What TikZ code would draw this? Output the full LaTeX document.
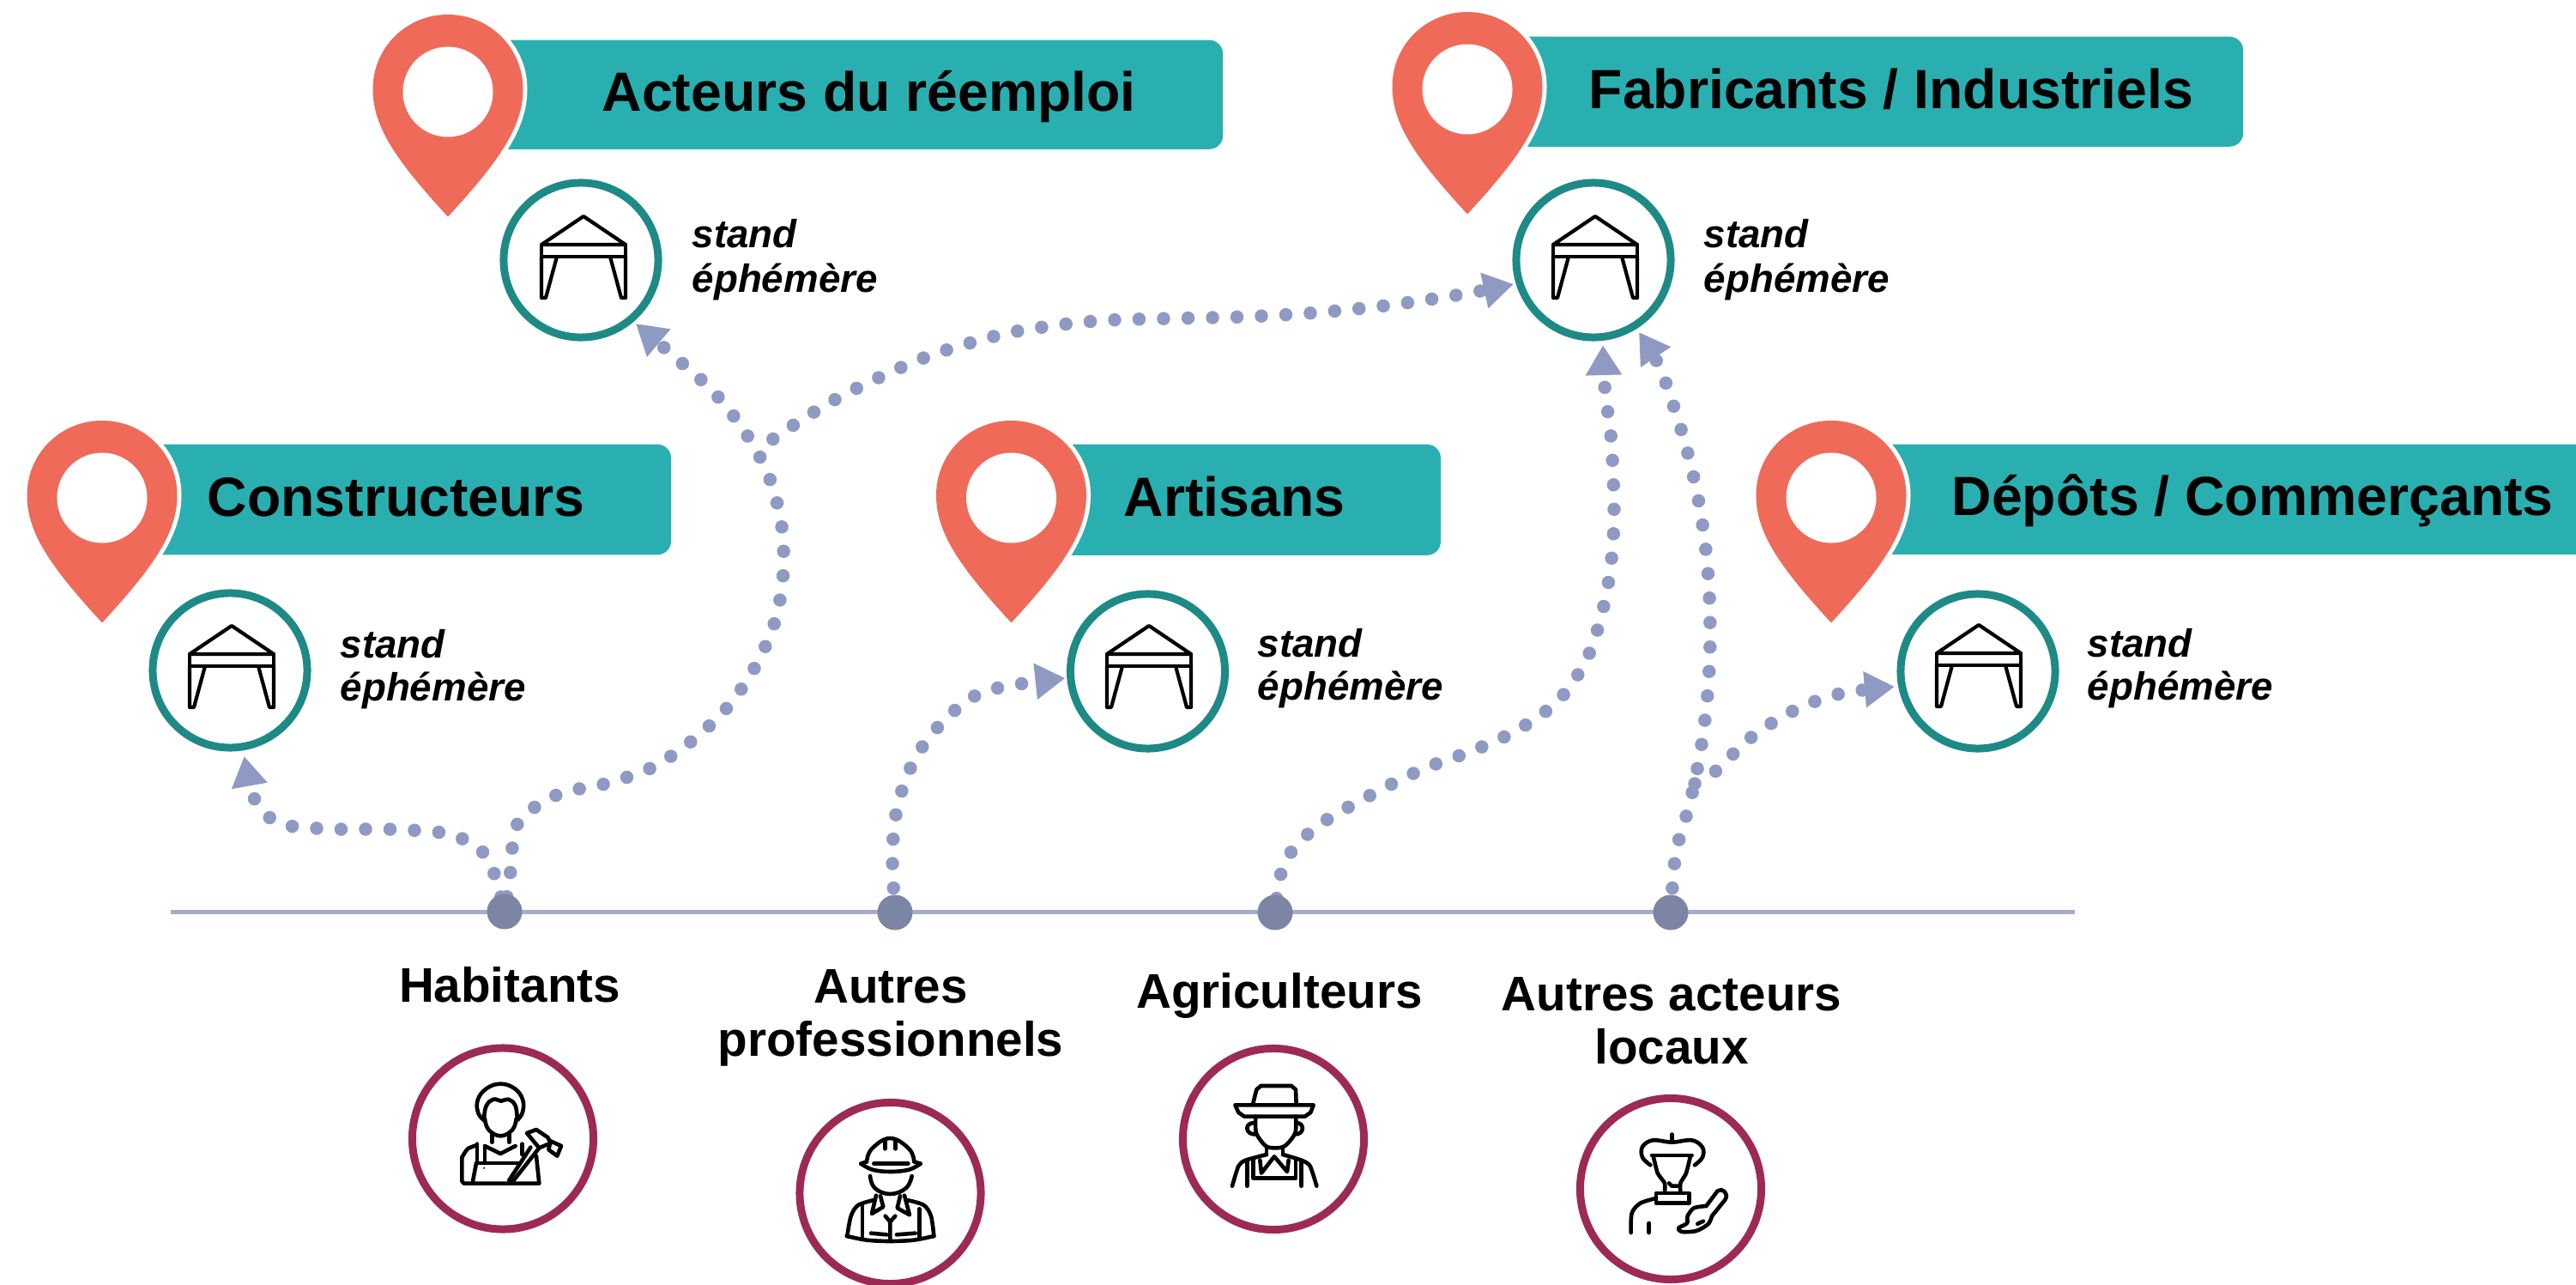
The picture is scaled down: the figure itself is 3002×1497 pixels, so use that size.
\documentclass[tikz,border=0pt]{standalone}
\usepackage{fontspec}
\setmainfont{Liberation Sans}
\usetikzlibrary{arrows.meta}
\definecolor{tealband}{HTML}{2AAFB0}
\definecolor{tealring}{HTML}{1E8A86}
\definecolor{coralpin}{HTML}{EF6A58}
\definecolor{maroonring}{HTML}{9C2A55}
\definecolor{linkdot}{HTML}{8F9AC4}
\definecolor{axisline}{HTML}{A6ACC6}
\definecolor{axisdot}{HTML}{7C85A3}
\tikzset{
  banner/.style={fill=tealband,rounded corners=.16cm,anchor=north west,inner sep=0pt},
  bannertext/.style={font=\fontsize{18.3pt}{20pt}\selectfont\bfseries,anchor=base west,inner sep=0pt,text=black},
  standring/.style={circle,draw=tealring,line width=.09cm,minimum size=1.8cm,inner sep=0pt,fill=white},
  personring/.style={circle,draw=maroonring,line width=.09cm,minimum size=2.11cm,inner sep=0pt,fill=white},
  standtext/.style={font=\fontsize{13pt}{14.2pt}\selectfont\bfseries\itshape,align=left,anchor=north west,inner sep=0pt},
  persontext/.style={font=\fontsize{16.1pt}{17.6pt}\selectfont\bfseries,align=center,inner sep=0pt},
  axisdotnode/.style={circle,fill=axisdot,minimum size=.41cm,inner sep=0pt},
  link/.style={draw=linkdot,line width=.155cm,line cap=round,dash pattern=on 0pt off .285cm,
    -{Triangle[length=.35cm,width=.40cm,fill=linkdot]}},
  iconline/.style={draw=black,line width=.046cm,line cap=round,line join=round},
  tentline/.style={draw=black,line width=.042cm,line join=round,line cap=round},
}
\newcommand{\pinshape}{(0,233) .. controls (-58,170) and (-86.5,130) .. (-86.5,86) .. controls (-86.5,38) and (-48,0) .. (0,0) .. controls (48,0) and (86.5,38) .. (86.5,86) .. controls (86.5,130) and (58,170) .. (0,233) -- cycle}
\newcommand{\pinmark}[2]{%
  \begin{scope}[shift={(#1,#2)}]
    \path[fill=white,draw=white,line width=.12cm] \pinshape;
    \path[fill=coralpin,draw=coralpin,line width=.02cm,line join=round] \pinshape;
    \fill[white] (0,89) circle [radius=.525cm];
  \end{scope}}
\newcommand{\tentmark}[2]{%
  \begin{scope}[shift={(#1,#2)},tentline]
    \draw (-49,33) -- (0,0) -- (49,33) -- cycle;
    \draw (-49,33) rectangle (49,47);
    \draw (-49,47) -- (-49,95) -- (-44,95) -- (-31,47);
    \draw (49,47) -- (49,95) -- (44,95) -- (31,47);
  \end{scope}}
\begin{document}
\begin{tikzpicture}[x=.01cm,y=-.01cm]
\clip (0,0) rectangle (3002,1497);
\fill[white] (0,0) rectangle (3002,1497);

% banners
\node[banner,minimum width=8.94cm,minimum height=1.27cm] (bandA) at (530,46) {};
\node[banner,minimum width=8.93cm,minimum height=1.28cm] (bandF) at (1720,42) {};
\node[banner,minimum width=6.56cm,minimum height=1.285cm] (bandC) at (125,517) {};
\node[banner,minimum width=4.93cm,minimum height=1.29cm] (bandR) at (1185,517) {};
\node[banner,minimum width=8.77cm,minimum height=1.28cm] (bandD) at (2145,517) {};
\pinmark{522}{18}
\pinmark{1710}{15}
\pinmark{119}{491}
\pinmark{1178.5}{491}
\pinmark{2134}{491}
\node[bannertext] (tA) at (701,130) {Acteurs du réemploi};
\node[bannertext] (tF) at (1851,127) {Fabricants / Industriels};
\node[bannertext] (tC) at (241,601) {Constructeurs};
\node[bannertext] (tR) at (1309,601) {Artisans};
\node[bannertext] (tD) at (2274,600) {Dépôts / Commerçants};

% stand rings
\node[standring] (sA) at (677,303) {};
\node[standring] (sF) at (1857,303) {};
\node[standring] (sC) at (268,781) {};
\node[standring] (sR) at (1337.5,782) {};
\node[standring] (sD) at (2305,782) {};
\tentmark{680}{252}
\tentmark{1859}{252}
\tentmark{270}{729}
\tentmark{1339}{729}
\tentmark{2306}{728}
\node[standtext] (lA) at (806,254.5) {stand\\[.02cm]éphémère};
\node[standtext] (lF) at (1985,254.5) {stand\\[.02cm]éphémère};
\node[standtext] (lC) at (396,732.5) {stand\\éphémère};
\node[standtext] (lR) at (1465,732) {stand\\éphémère};
\node[standtext] (lD) at (2432,732) {stand\\éphémère};

% axis
\node[axisdotnode,opacity=0] (axL) at (199,1062) {};
\node[axisdotnode,opacity=0] (axR) at (2418,1062) {};
\draw[axisline,line width=.05cm] (axL.center) -- (axR.center);

% link ends
\coordinate (endA) at (741,377);
\coordinate (endC) at (284.6,881);
\coordinate (endF) at (1764,331);
\coordinate (endR) at (1241.5,790);
\coordinate (endE) at (1868,402);
\coordinate (endG) at (1910,387);
\coordinate (endD) at (2208,800);
\coordinate (forkB) at (881.6,525);
\coordinate (forkG) at (1975,913);
\coordinate (hab) at (588,1062);
\coordinate (pro) at (1043,1063);
\coordinate (agr) at (1486,1063);
\coordinate (loc) at (1947,1063);

% links
\draw[link,dash phase=.11cm] plot[smooth,tension=.55] coordinates {(hab) (595,1015) (603.5,959) (649,926) (705.6,913) (760,894) (807.6,862) (849,822.5) (881.6,774) (904,721) (913,664) (910,606.6) (894,550) (866,500) (830,455) (786.6,416) (endA)};
\draw[link,dash phase=.11cm] plot[smooth,tension=.55] coordinates {(hab) (576,1018) (562,992) (538.5,977) (511,969.5) (452,966) (395,966) (337,962) (311,950) (295,927) (endC)};
\draw[link,dash phase=.05cm] plot[smooth,tension=.55] coordinates {(forkB) (925,495) (974,465) (1026,439) (1079,416) (1134,398.5) (1190,385) (1276,374) (1363,371) (1450,369) (1536.5,364) (1622.6,355) (1708.7,342) (endF)};
\draw[link] plot[smooth,tension=.55] coordinates {(pro) (1040,996) (1046,939) (1066.5,883.5) (1101.6,838) (1149,805) (endR)};
\draw[link,dash phase=.12cm] plot[smooth,tension=.55] coordinates {(agr) (1497,1005) (1536,962) (1611,919) (1663,894) (1717.5,874) (1769,850) (1816,816) (1849,768) (1867,714) (1877,660) (1881,598.5) (1877.7,513) (1870.5,455.6) (endE)};
\draw[link] plot[smooth,tension=.55] coordinates {(loc) (1953,994) (1968.6,938) (1980.6,881.6) (1988.5,824) (1992.5,766) (1992.5,708) (1989,650.5) (1981,592) (1969,536) (1953,481) (1933.5,426.5) (endG)};
\draw[link] plot[smooth,tension=.55] coordinates {(forkG) (1998,899.5) (2039.5,860) (2088,829) (2142,808.7) (endD)};

% axis dots
\node[axisdotnode] (dHab) at (hab) {};
\node[axisdotnode] (dPro) at (pro) {};
\node[axisdotnode] (dAgr) at (agr) {};
\node[axisdotnode] (dLoc) at (loc) {};

% person labels
\node[persontext,anchor=base] (nHab) at (594,1167) {Habitants};
\node[persontext,anchor=north] (nPro) at (1038,1129) {Autres\\professionnels};
\node[persontext,anchor=base] (nAgr) at (1491,1174) {Agriculteurs};
\node[persontext,anchor=north] (nLoc) at (1948,1138) {Autres acteurs\\locaux};

% person rings
\node[personring] (pHab) at (586,1326.5) {};
\node[personring] (pPro) at (1037.5,1390) {};
\node[personring] (pAgr) at (1484,1327) {};
\node[personring] (pLoc) at (1947,1385) {};

% builder with hammer
\begin{scope}[shift={(510,1240)},scale=1/3,iconline]
  \draw plot[smooth,tension=.7] coordinates {(162,195) (142,170) (140,125) (170,85) (220,68) (270,85) (298,125) (296,170) (278,195)};
  \draw plot[smooth,tension=.7] coordinates {(162,190) (170,145) (195,122) (222,128) (248,122) (272,145) (278,190)};
  \draw plot[smooth,tension=.7] coordinates {(165,190) (178,228) (220,250) (262,228) (275,190)};
  \draw (190,245) -- (190,272) (250,245) -- (250,272);
  \draw plot[smooth,tension=.4] coordinates {(135,283) (105,295) (85,325)};
  \draw (85,325) -- (85,408) -- (92,416) -- (350,416);
  \draw (138,278) -- (138,345) -- (282,345);
  \draw (165,292) -- (165,345);
  \draw (165,285) -- (220,312) -- (272,285);
  \draw (135,345) -- (122,414);
  \draw (296,278) -- (296,315);
  \draw (345,320) -- (355,416);
  \draw (355,292) -- (262,410);
  \draw (325,290) -- (250,405);
  \draw (312,240) -- (345,228) -- (385,255) -- (395,275) -- (355,292) -- cycle;
  \draw (395,268) -- (432,285) -- (418,320) -- (388,298) -- (395,268);
  \fill[black] (162,362) circle [radius=.035cm];
\end{scope}

% worker with helmet
\begin{scope}[shift={(950,1310)},scale=1/3,iconline]
  \draw plot[smooth,tension=.7] coordinates {(180,130) (198,85) (262,48) (328,85) (346,130)};
  \draw plot[smooth,tension=.6] coordinates {(160,137) (200,158) (262,165) (328,158) (368,137)};
  \draw (160,137) -- (180,130) (368,137) -- (346,130);
  \draw (205,136) -- (325,136);
  \draw (245,55) -- (245,85) (280,55) -- (280,85);
  \draw plot[smooth,tension=.7] coordinates {(192,180) (208,222) (262,243) (318,222) (338,180)};
  \draw (213,248) -- (198,312) -- (238,288) -- (228,250);
  \draw (312,248) -- (330,316) -- (287,292) -- (297,250);
  \draw plot[smooth,tension=.5] coordinates {(112,390) (125,320) (150,282) (202,265)};
  \draw plot[smooth,tension=.5] coordinates {(415,390) (405,320) (380,282) (325,265)};
  \draw plot[smooth,tension=.5] coordinates {(110,390) (180,404) (262,408) (345,404) (415,390)};
  \draw (165,285) -- (165,392) (365,295) -- (365,392);
  \draw (245,320) -- (262,340) -- (280,320) (262,340) -- (262,402);
  \draw (195,380) -- (250,385) (285,385) -- (350,380);
\end{scope}

% farmer
\begin{scope}[shift={(1400,1250)},scale=1/3,iconline]
  \draw (180,110) -- (193,58) -- (208,45) -- (315,45) -- (330,58) -- (332,110);
  \draw (118,112) -- (392,112) -- (382,138) -- (362,152) -- (150,152) -- (130,138) -- cycle;
  \draw plot[smooth,tension=.5] coordinates {(190,152) (192,210) (225,255) (258,262) (292,255) (328,210) (330,152)};
  \draw (188,175) .. controls (150,170) and (150,218) .. (192,214);
  \draw (330,175) .. controls (362,170) and (362,218) .. (326,214);
  \draw (228,258) -- (228,285) (285,258) -- (285,285);
  \draw plot[smooth,tension=.4] coordinates {(108,395) (130,325) (155,305) (228,285)};
  \draw plot[smooth,tension=.4] coordinates {(403,395) (380,325) (350,305) (285,285)};
  \draw (160,310) -- (160,395) (350,310) -- (350,395);
  \draw (182,300) -- (182,368) -- (330,368) -- (330,300);
  \draw (205,305) -- (210,350) -- (255,292) -- (300,345) -- (305,305);
\end{scope}

% artist
\begin{scope}[shift={(1860,1310)},scale=1/3,iconline]
  \draw (265,35) -- (265,62);
  \draw plot[smooth,tension=.6] coordinates {(190,142) (162,115) (162,78) (198,55) (265,62) (335,55) (372,80) (372,115) (345,142)};
  \draw (195,108) -- (335,108);
  \draw plot[smooth,tension=.3] coordinates {(200,110) (215,170) (240,205) (240,238)};
  \draw plot[smooth,tension=.3] coordinates {(330,110) (315,170) (295,205) (295,238)};
  \draw (255,205) -- (265,215) -- (285,215);
  \draw (210,240) -- (325,240) -- (325,275) -- (210,275) -- cycle;
  \draw plot[smooth,tension=.5] coordinates {(210,258) (155,275) (125,310) (122,378)};
  \draw (185,345) -- (185,378);
  \draw (385,285) -- (425,232) .. controls (440,220) and (465,240) .. (452,262) -- (405,320);
  \draw plot[smooth,tension=.5] coordinates {(385,285) (342,292) (320,320) (318,345) (288,362) (300,375) (350,372) (392,348) (405,320)};
  \draw (355,347) -- (375,338);
\end{scope}
\end{tikzpicture}
\end{document}
